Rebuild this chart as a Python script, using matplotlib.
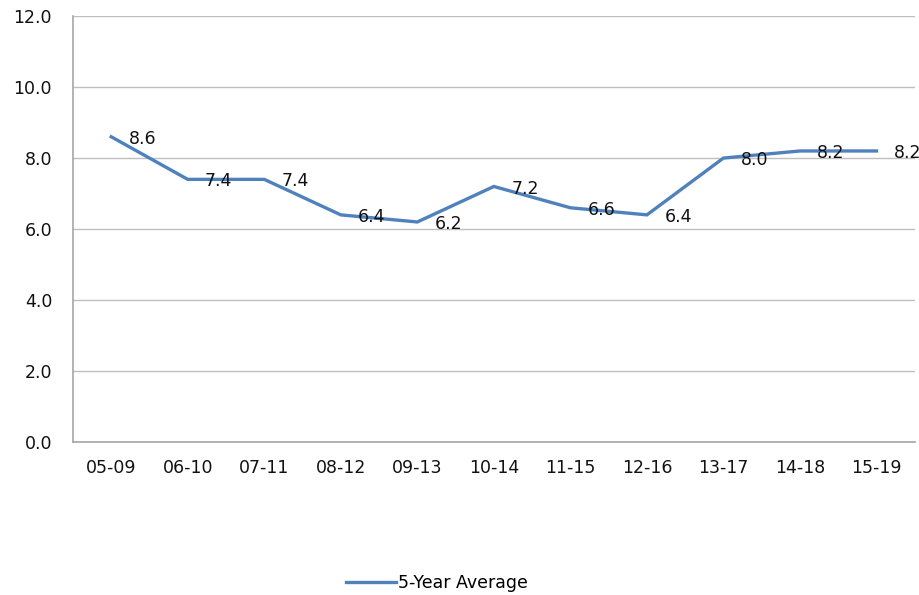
import matplotlib
matplotlib.use("Agg")
import matplotlib.pyplot as plt

periods = ['05-09', '06-10', '07-11', '08-12', '09-13', '10-14',
           '11-15', '12-16', '13-17', '14-18', '15-19']
avg_5yr = [8.6, 7.4, 7.4, 6.4, 6.2, 7.2, 6.6, 6.4, 8.0, 8.2, 8.2]
yticks = [0, 2, 4, 6, 8, 10, 12]

fs = 12.5

fig = plt.figure(figsize=(9.2, 5.95), dpi=100)
ax = fig.add_axes([0.0793, 0.257, 0.915, 0.716])

x = list(range(len(periods)))
ax.plot(x, avg_5yr, color='#4F81BD', lw=2.4, label='5-Year Average',
        solid_joinstyle='miter')

# value labels sit just right of each point
for xi, v in zip(x, avg_5yr):
    ax.annotate(f'{v:.1f}', (xi, v), xytext=(12.5, -1.5), textcoords='offset points',
                ha='left', va='center', fontsize=fs, color='#111111')

ax.set_xlim(-0.5, len(periods) - 0.5)
ax.set_ylim(0, 12)
ax.set_yticks(yticks)
ax.set_yticklabels([f'{t:.1f}' for t in yticks])
ax.set_xticks(x)
ax.set_xticklabels(periods)
ax.tick_params(axis='both', length=0, labelsize=fs, colors='#111111')
ax.tick_params(axis='y', pad=15)
ax.tick_params(axis='x', pad=12)

ax.grid(axis='y', color='#BFBFBF', lw=1)
ax.set_axisbelow(True)
for s in ['top', 'right']:
    ax.spines[s].set_visible(False)
for s in ['left', 'bottom']:
    ax.spines[s].set_color('#A6A6A6')
    ax.spines[s].set_linewidth(1.2)

fig.legend(loc='center', bbox_to_anchor=(0.475, 0.02), frameon=False,
           fontsize=fs, handlelength=2.9, handletextpad=0.1)

fig.savefig('out.png', dpi=100)
